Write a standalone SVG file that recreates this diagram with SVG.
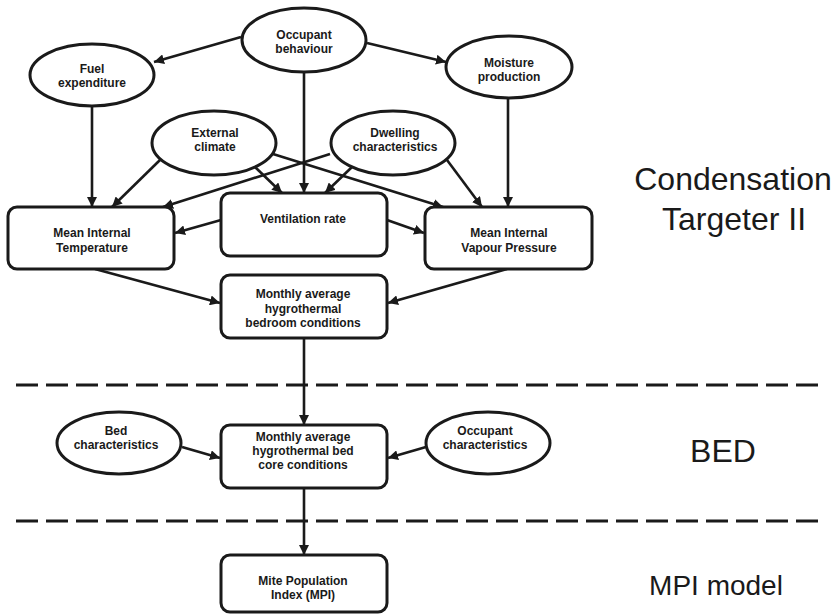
<svg xmlns="http://www.w3.org/2000/svg" width="839" height="615" viewBox="0 0 839 615">
<style>
.n{fill:#fff;stroke:#1a1a1a;stroke-width:3}
.t{font-family:"Liberation Sans",Arial,sans-serif;font-weight:bold;font-size:12px;fill:#1a1a1a;text-anchor:middle}
.big{font-family:"Liberation Sans",Arial,sans-serif;font-size:32px;fill:#1a1a1a;text-anchor:middle}
.c{stroke:#1a1a1a;stroke-width:2.6;fill:none;marker-end:url(#ah)}
.d{stroke:#1a1a1a;stroke-width:3;stroke-dasharray:22 8;fill:none}
</style>
<defs>
<marker id="ah" markerUnits="userSpaceOnUse" markerWidth="11" markerHeight="10" refX="10" refY="5" orient="auto">
<path d="M0,0 L10,5 L0,10 z" fill="#1a1a1a"/>
</marker>
</defs>
<rect width="839" height="615" fill="#fff"/>
<g id="separators">
<line class="d" x1="16" y1="385" x2="823" y2="385"/>
<line class="d" x1="16" y1="521" x2="823" y2="521"/>
</g>
<g id="connectors">
<line class="c" x1="241" y1="37" x2="154" y2="62"/>
<line class="c" x1="367" y1="43" x2="446" y2="62"/>
<line class="c" x1="304" y1="72" x2="304" y2="193"/>
<line class="c" x1="92" y1="106" x2="92" y2="207"/>
<line class="c" x1="508" y1="98" x2="508" y2="207"/>
<line class="c" x1="160" y1="160" x2="112" y2="207"/>
<line class="c" x1="255" y1="167" x2="282" y2="193"/>
<line class="c" x1="273" y1="154" x2="443" y2="207"/>
<line class="c" x1="330" y1="154" x2="163" y2="207"/>
<line class="c" x1="352" y1="167" x2="325" y2="193"/>
<line class="c" x1="447" y1="160" x2="482" y2="207"/>
<line class="c" x1="221" y1="220" x2="175" y2="233"/>
<line class="c" x1="387" y1="220" x2="424" y2="233"/>
<line class="c" x1="95" y1="269" x2="220" y2="303"/>
<line class="c" x1="507" y1="269" x2="388" y2="303"/>
<line class="c" x1="304" y1="338" x2="304" y2="425"/>
<line class="c" x1="182" y1="447" x2="220" y2="458"/>
<line class="c" x1="426" y1="447" x2="388" y2="458"/>
<line class="c" x1="304" y1="488" x2="304" y2="555"/>
</g>
<g id="occupant-behaviour">
<ellipse class="n" cx="304" cy="40" rx="62" ry="32"/>
<text class="t" x="304" y="39">Occupant</text>
<text class="t" x="304" y="53">behaviour</text>
</g>
<g id="fuel-expenditure">
<ellipse class="n" cx="92" cy="75" rx="62" ry="31"/>
<text class="t" x="92" y="73">Fuel</text>
<text class="t" x="92" y="87">expenditure</text>
</g>
<g id="moisture-production">
<ellipse class="n" cx="509" cy="67" rx="63" ry="31"/>
<text class="t" x="509" y="67">Moisture</text>
<text class="t" x="509" y="81">production</text>
</g>
<g id="external-climate">
<ellipse class="n" cx="214" cy="143" rx="62" ry="32"/>
<text class="t" x="215" y="137">External</text>
<text class="t" x="215" y="151">climate</text>
</g>
<g id="dwelling-characteristics">
<ellipse class="n" cx="393" cy="143" rx="62" ry="32"/>
<text class="t" x="395" y="137">Dwelling</text>
<text class="t" x="395" y="151">characteristics</text>
</g>
<g id="mean-internal-temperature">
<rect class="n" x="8" y="207" width="166" height="62" rx="9"/>
<text class="t" x="92" y="237">Mean Internal</text>
<text class="t" x="92" y="252">Temperature</text>
</g>
<g id="ventilation-rate">
<rect class="n" x="221" y="193" width="166" height="63" rx="9"/>
<text class="t" x="303" y="223">Ventilation rate</text>
</g>
<g id="mean-internal-vapour-pressure">
<rect class="n" x="425" y="207" width="167" height="62" rx="9"/>
<text class="t" x="509" y="237">Mean Internal</text>
<text class="t" x="509" y="252">Vapour Pressure</text>
</g>
<g id="bedroom-conditions">
<rect class="n" x="221" y="275" width="166" height="63" rx="9"/>
<text class="t" x="303" y="298">Monthly average</text>
<text class="t" x="303" y="313">hygrothermal</text>
<text class="t" x="303" y="327">bedroom conditions</text>
</g>
<g id="bed-characteristics">
<ellipse class="n" cx="119" cy="443" rx="62" ry="31"/>
<text class="t" x="116" y="435">Bed</text>
<text class="t" x="116" y="449">characteristics</text>
</g>
<g id="occupant-characteristics">
<ellipse class="n" cx="488" cy="443" rx="62" ry="31"/>
<text class="t" x="485" y="435">Occupant</text>
<text class="t" x="485" y="449">characteristics</text>
</g>
<g id="bed-core-conditions">
<rect class="n" x="221" y="425" width="166" height="63" rx="9"/>
<text class="t" x="303" y="441">Monthly average</text>
<text class="t" x="303" y="455">hygrothermal bed</text>
<text class="t" x="303" y="469">core conditions</text>
</g>
<g id="mite-population-index">
<rect class="n" x="221" y="555" width="166" height="57" rx="9"/>
<text class="t" x="303" y="585">Mite Population</text>
<text class="t" x="303" y="599">Index (MPI)</text>
</g>
<g id="section-labels">
<text class="big" x="733" y="190">Condensation</text>
<text class="big" x="734" y="230">Targeter II</text>
<text class="big" x="723" y="462">BED</text>
<text class="big" x="716" y="595" style="font-size:28px">MPI model</text>
</g>
</svg>
